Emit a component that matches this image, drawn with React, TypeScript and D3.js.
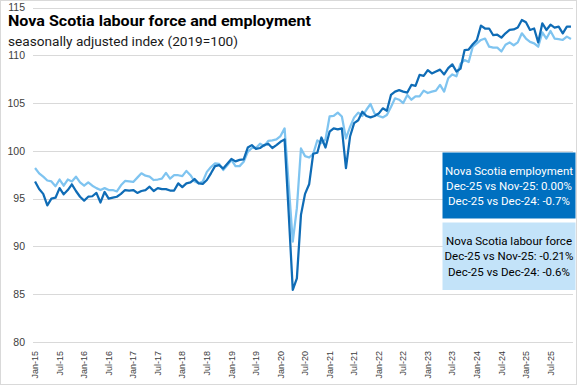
import React, { useEffect, useRef } from 'react';
import * as d3 from 'd3';

// monthly categories Jan-15 .. Dec-25
const monthNames = ['Jan', 'Feb', 'Mar', 'Apr', 'May', 'Jun', 'Jul', 'Aug', 'Sep', 'Oct', 'Nov', 'Dec'];
const years = ['15', '16', '17', '18', '19', '20', '21', '22', '23', '24', '25'];
const categories: string[] = [];
years.forEach(y => monthNames.forEach(m => categories.push(`${m}-${y}`)));

// Nova Scotia employment, index 2019=100
const employment = [
  96.8, 96.0, 95.5, 94.3, 95.0, 95.1, 96.1, 95.45, 95.9, 96.5, 95.8, 95.2,
  94.8, 95.2, 95.25, 95.6, 94.6, 95.7, 95.0, 95.1, 95.2, 95.5, 95.9, 95.85,
  95.9, 95.6, 95.8, 95.9, 96.25, 95.8, 96.1, 96.0, 96.0, 95.85, 95.85, 96.6,
  96.2, 96.6, 96.7, 97.05, 96.6, 96.55, 96.95, 97.65, 98.4, 98.5, 98.15, 98.65,
  99.15, 98.9, 99.05, 99.1, 100.35, 100.6, 100.2, 100.3, 100.6, 100.75, 100.3, 100.6,
  100.95, 101.2, 93.5, 85.45, 86.65, 93.3, 95.5, 96.5, 99.7, 99.8, 101.4, 100.35,
  102.0, 102.35, 102.25, 102.35, 98.2, 101.5, 102.9, 103.2, 104.1, 103.65, 103.5, 103.65,
  103.9, 104.45, 104.2, 105.85, 106.2, 106.35, 106.2, 106.1, 106.9, 106.8, 107.95, 107.85,
  108.45, 108.1, 108.3, 108.5, 108.0, 108.65, 109.05, 108.3, 108.6, 110.55, 110.6, 111.15,
  111.6, 113.1, 112.8, 112.8, 112.1, 112.15, 111.85, 112.3, 112.65, 112.7, 112.9, 113.7,
  113.45, 112.65, 112.8, 111.35, 113.35, 112.65, 113.2, 112.9, 113.0, 112.3, 113.0, 113.0,
];

// Nova Scotia labour force, index 2019=100
const labourForce = [
  98.2, 97.65, 97.3, 96.9, 96.8, 96.3, 97.0, 96.35, 97.0, 96.8, 97.3, 96.7,
  96.35, 96.7, 96.35, 96.1, 95.9, 96.1, 95.9, 95.9, 95.75, 96.4, 96.85, 96.8,
  96.75, 97.2, 97.65, 97.4, 97.3, 96.95, 97.0, 97.1, 97.7, 97.1, 97.45, 97.45,
  97.35, 97.9, 97.45, 96.8, 96.6, 96.8, 97.8, 98.3, 98.7, 98.65, 98.0, 98.5,
  99.05, 98.4, 98.4, 98.85, 99.9, 100.3, 100.3, 100.75, 100.5, 101.05, 101.1, 101.2,
  101.55, 102.35, 96.5, 90.5, 94.0, 100.25, 99.45, 99.3, 99.7, 101.1, 100.8, 101.2,
  103.6, 103.65, 104.0, 103.6, 101.3, 102.5, 103.5, 104.0, 103.65, 104.3, 104.9, 103.9,
  103.65, 103.5, 103.75, 104.6, 105.5, 105.35, 105.0, 105.85, 105.35, 105.7, 105.7, 106.3,
  106.05, 106.2, 106.3, 106.9, 106.2, 107.6, 108.0, 107.8, 109.1, 109.5, 109.3, 110.9,
  111.25, 111.6, 111.75, 110.9, 110.8, 110.8, 110.4, 111.1, 111.35, 111.05, 111.35, 112.3,
  111.75, 111.4, 111.25, 110.9, 112.4, 111.75, 112.55, 111.75, 111.7, 111.6, 111.95, 111.7,
];

const yTicks = [80, 85, 90, 95, 100, 105, 110, 115];

const employmentBox = ['Nova Scotia employment', 'Dec-25 vs Nov-25: 0.00%', 'Dec-25 vs Dec-24: -0.7%'];
const labourBox = ['Nova Scotia labour force', 'Dec-25 vs Nov-25: -0.21%', 'Dec-25 vs Dec-24: -0.6%'];

const W = 577;
const H = 385;

const LabourChart = () => {
  const ref = useRef<SVGSVGElement>(null);

  useEffect(() => {
    if (!ref.current) return;
    const svg = d3.select(ref.current);
    svg.selectAll('*').remove();

    const font = 'Roboto, "Liberation Sans", Arial, sans-serif';

    // chart border
    svg.append('rect')
      .attr('x', 0.5).attr('y', 0.5)
      .attr('width', W - 1).attr('height', H - 1)
      .attr('fill', '#fff')
      .attr('stroke', '#d9d9d9');

    const x = d3.scaleBand()
      .domain(categories)
      .range([33, 573]);

    const y = d3.scaleLinear()
      .domain([80, 115])
      .range([342, 7.5]);

    const cx = (i: number) => (x(categories[i]) as number) + x.bandwidth() / 2;

    // gridlines
    svg.append('g')
      .selectAll('line')
      .data(yTicks)
      .enter()
      .append('line')
      .attr('x1', 33).attr('x2', 573)
      .attr('y1', d => Math.round(y(d)) + 0.5)
      .attr('y2', d => Math.round(y(d)) + 0.5)
      .attr('stroke', '#d9d9d9')
      .attr('stroke-width', 1);

    // y labels
    svg.append('g')
      .selectAll('text')
      .data(yTicks)
      .enter()
      .append('text')
      .attr('x', 25)
      .attr('y', d => y(d))
      .attr('dy', '0.35em')
      .attr('text-anchor', 'end')
      .attr('font-family', '"Liberation Sans", Arial, sans-serif')
      .attr('font-size', 10.5)
      .attr('fill', '#404040')
      .text(d => d);

    // x labels, every 6 months
    svg.append('g')
      .selectAll('text')
      .data(categories.filter((_, i) => i % 6 === 0))
      .enter()
      .append('text')
      .attr('transform', d => `translate(${(x(d) as number) + x.bandwidth() / 2},351) rotate(-90)`)
      .attr('dy', '0.35em')
      .attr('text-anchor', 'end')
      .attr('font-family', '"Liberation Sans", Arial, sans-serif')
      .attr('font-size', 9)
      .attr('fill', '#404040')
      .text(d => d);

    const line = d3.line<number>()
      .x((_, i) => cx(i))
      .y(d => y(d));

    svg.append('path')
      .datum(labourForce)
      .attr('d', line)
      .attr('fill', 'none')
      .attr('stroke', '#7fc4f0')
      .attr('stroke-width', 2.25)
      .attr('stroke-linejoin', 'round');

    svg.append('path')
      .datum(employment)
      .attr('d', line)
      .attr('fill', 'none')
      .attr('stroke', '#0f6cb6')
      .attr('stroke-width', 2.25)
      .attr('stroke-linejoin', 'round');

    // title
    svg.append('text')
      .attr('x', 8).attr('y', 26)
      .attr('font-family', font)
      .attr('font-weight', 'bold')
      .attr('font-size', 15)
      .attr('textLength', 303)
      .attr('lengthAdjust', 'spacingAndGlyphs')
      .attr('fill', '#000')
      .text('Nova Scotia labour force and employment');

    svg.append('text')
      .attr('x', 8).attr('y', 46)
      .attr('font-family', font)
      .attr('font-size', 12.5)
      .attr('textLength', 230)
      .attr('lengthAdjust', 'spacingAndGlyphs')
      .attr('fill', '#1a1a1a')
      .text('seasonally adjusted index (2019=100)');

    // annotation boxes
    const boxes = [
      { lines: employmentBox, y0: 152.5, h: 66, fill: '#0070c0', color: '#fff' },
      { lines: labourBox, y0: 222.5, h: 67.5, fill: '#c3e3f9', color: '#000' },
    ];
    boxes.forEach(b => {
      svg.append('rect')
        .attr('x', 442.5).attr('y', b.y0)
        .attr('width', 133).attr('height', b.h)
        .attr('fill', b.fill);
      svg.append('g')
        .selectAll('text')
        .data(b.lines)
        .enter()
        .append('text')
        .attr('x', 509)
        .attr('y', (_, i) => b.y0 + b.h / 2 - 15 + i * 15.2)
        .attr('dy', '0.35em')
        .attr('text-anchor', 'middle')
        .attr('font-family', font)
        .attr('font-size', 11.5)
        .attr('fill', b.color)
        .text(d => d);
    });
  }, []);

  return (
    <svg
      ref={ref}
      width={W}
      height={H}
      style={{ position: 'absolute', left: 0, top: 0, display: 'block' }}
    />
  );
};

export default function App() {
  return (
    <div>
      <LabourChart />
    </div>
  );
}
